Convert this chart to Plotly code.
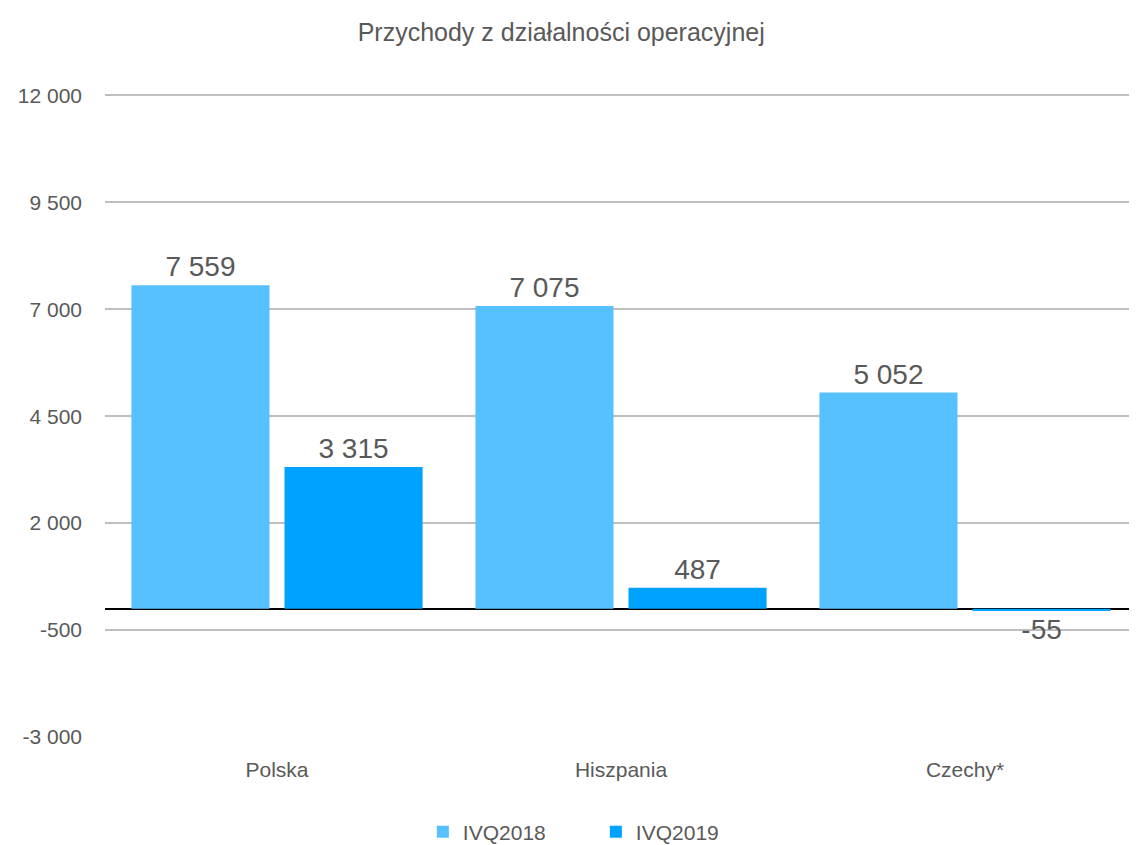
import plotly.graph_objects as go

categories = ["Polska", "Hiszpania", "Czechy*"]
q4_2018 = [7559, 7075, 5052]
q4_2019 = [3315, 487, -55]
series_names = ["IVQ2018", "IVQ2019"]
title_text = "Przychody z działalności operacyjnej"
y_tickvals = [-3000, -500, 2000, 4500, 7000, 9500, 12000]
y_ticktext = ["-3 000", "-500", "2 000", "4 500", "7 000", "9 500", "12 000"]

FONT = "Liberation Sans Narrow, Arial Narrow, Liberation Sans, Arial, sans-serif"
GRAY = "#595959"

fig = go.Figure()
for name, vals, col in zip(series_names, [q4_2018, q4_2019], ["#57C1FF", "#00A2FF"]):
    fig.add_trace(go.Bar(
        x=categories, y=vals, name=name, marker=dict(color=col, line=dict(width=0)),
        texttemplate="%{y:,d}", textposition="outside", cliponaxis=False,
        textfont=dict(size=28, color=GRAY, family=FONT),
    ))

# page body adds an 8px offset; figure is sized to end at the window edge
fig.update_layout(
    width=1129, height=837,
    margin=dict(l=97, r=0, t=84, b=108),
    paper_bgcolor="white", plot_bgcolor="white",
    separators=", ",
    barmode="group", bargap=0.11, bargroupgap=0.098,
    font=dict(family=FONT, color=GRAY, size=20),
    title=dict(text=title_text, x=0.49, xanchor="center", y=0.971, yanchor="middle",
               font=dict(size=25, color=GRAY, family=FONT)),
    legend=dict(orientation="h", xref="container", x=0.5207, xanchor="center",
                yref="container", y=0.0155, yanchor="middle",
                font=dict(size=21, color=GRAY, family=FONT), itemwidth=30,
                entrywidth=128, traceorder="normal"),
    showlegend=True,
)
fig.update_yaxes(range=[-3000, 12080], tickvals=y_tickvals, ticktext=y_ticktext,
                 showgrid=True, gridcolor="#BFBFBF", gridwidth=2,
                 zeroline=True, zerolinecolor="black", zerolinewidth=2,
                 showline=False, ticks="", ticklabelstandoff=22,
                 tickfont=dict(size=21, color=GRAY, family=FONT))
fig.update_xaxes(showline=False, ticks="", ticklabelstandoff=18,
                 tickfont=dict(size=21, color=GRAY, family=FONT))

fig.write_html("out.html")
